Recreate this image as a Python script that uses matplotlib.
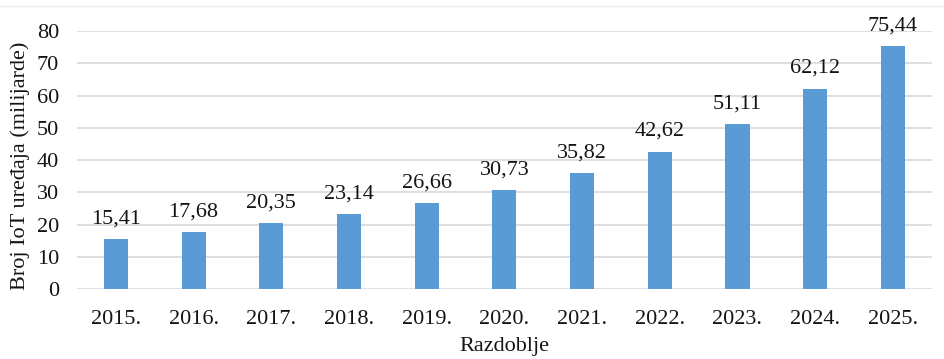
import matplotlib
matplotlib.use("Agg")
import matplotlib.pyplot as plt
from matplotlib.lines import Line2D

years = ["2015.", "2016.", "2017.", "2018.", "2019.", "2020.",
         "2021.", "2022.", "2023.", "2024.", "2025."]
devices = [15.41, 17.68, 20.35, 23.14, 26.66, 30.73,
           35.82, 42.62, 51.11, 62.12, 75.44]
yticks = [0, 10, 20, 30, 40, 50, 60, 70, 80]

plt.rcParams["font.family"] = ["Liberation Serif", "DejaVu Serif"]
FS = 16
INK = "#141414"

fig = plt.figure(figsize=(9.44, 3.59), dpi=100)
ax = fig.add_axes([0.0816, 0.195, 0.9054, 0.7186])

x = list(range(len(years)))
ax.bar(x, devices, width=0.31, color="#5b9bd5", zorder=3)
for xi, v in zip(x, devices):
    ax.text(xi, v + 3.3, f"{v:.2f}".replace(".", ","), ha="center",
            va="bottom", fontsize=FS, color=INK)

ax.set_xlim(-0.5, len(years) - 0.5)
ax.set_ylim(0, 80)
ax.set_yticks(yticks)
ax.set_xticks(x)
ax.set_xticklabels(years)
ax.tick_params(axis="both", length=0, labelsize=FS, colors=INK)
ax.tick_params(axis="x", pad=15)
ax.tick_params(axis="y", pad=13)
ax.grid(axis="y", color="#d9d9d9", linewidth=1.2, zorder=0)
for s in ax.spines.values():
    s.set_visible(False)

ax.set_xlabel("Razdoblje", fontsize=FS, color=INK, labelpad=6)
fig.text(20 / 944, 1 - 166 / 359, "Broj IoT uređaja (milijarde)", rotation=90,
         ha="center", va="center", fontsize=FS, color=INK)

fig.add_artist(Line2D([0, 1], [0.982, 0.982], transform=fig.transFigure,
                      color="#ececec", linewidth=1.0))

fig.savefig("out.png", dpi=100)
